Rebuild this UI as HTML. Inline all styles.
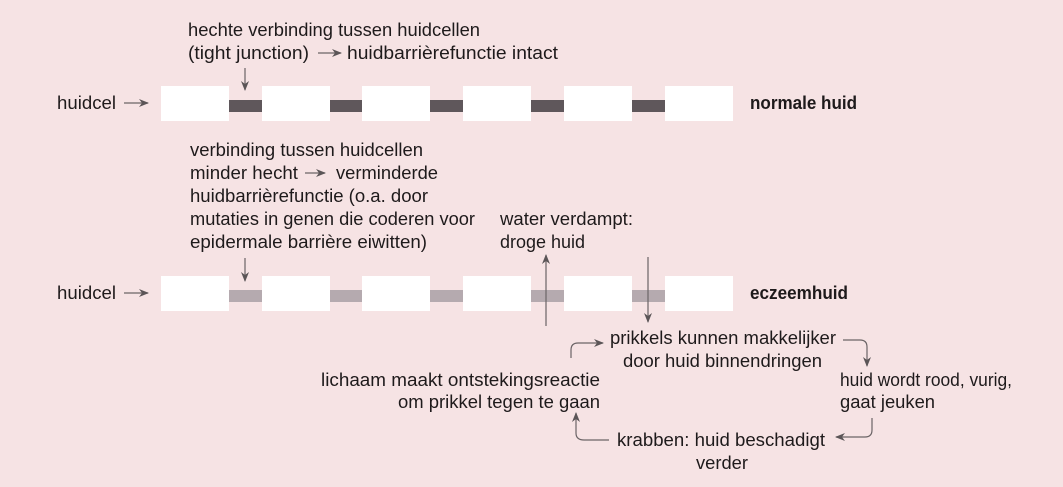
<!DOCTYPE html>
<html><head><meta charset="utf-8"><style>
html,body{margin:0;padding:0;background:#f6e3e4;}
svg{display:block;}
text{font-family:"Liberation Sans",sans-serif;font-size:18px;fill:#1e1a1b;}
.b{font-weight:bold;}
</style></head><body>
<svg width="1063" height="487" viewBox="0 0 1063 487" xmlns="http://www.w3.org/2000/svg">
<defs>
<marker id="a" markerWidth="10" markerHeight="8" refX="9" refY="4" orient="auto" markerUnits="userSpaceOnUse">
<path d="M0,0 L10,4 L0,8 L3,4 z" fill="#5b5557"/></marker>
</defs>
<rect width="1063" height="487" fill="#f6e3e4"/>
<g fill="#5f575b">
<rect x="229" y="100" width="33" height="12"/><rect x="330" y="100" width="32" height="12"/>
<rect x="430" y="100" width="33" height="12"/><rect x="531" y="100" width="33" height="12"/>
<rect x="632" y="100" width="33" height="12"/></g>
<g fill="#fff">
<rect x="161" y="86" width="68" height="35"/><rect x="262" y="86" width="68" height="35"/>
<rect x="362" y="86" width="68" height="35"/><rect x="463" y="86" width="68" height="35"/>
<rect x="564" y="86" width="68" height="35"/><rect x="665" y="86" width="68" height="35"/></g>
<g fill="#b5aaaf">
<rect x="229" y="290" width="33" height="12"/><rect x="330" y="290" width="32" height="12"/>
<rect x="430" y="290" width="33" height="12"/><rect x="531" y="290" width="33" height="12"/>
<rect x="632" y="290" width="33" height="12"/></g>
<g fill="#fff">
<rect x="161" y="276" width="68" height="35"/><rect x="262" y="276" width="68" height="35"/>
<rect x="362" y="276" width="68" height="35"/><rect x="463" y="276" width="68" height="35"/>
<rect x="564" y="276" width="68" height="35"/><rect x="665" y="276" width="68" height="35"/></g>

<g stroke="#6b6466" stroke-width="1.2" fill="none" marker-end="url(#a)">
<line x1="124" y1="103" x2="148" y2="103"/>
<line x1="124" y1="293" x2="148" y2="293"/>
<line x1="245" y1="68" x2="245" y2="90"/>
<line x1="245" y1="258" x2="245" y2="281"/>
<line x1="318" y1="53" x2="341" y2="53"/>
<line x1="305" y1="173" x2="325" y2="173"/>
<line x1="546" y1="326" x2="546" y2="255"/>
<line x1="648" y1="257" x2="648" y2="322"/>
<path d="M571,358 L571,350 Q571,343 578,343 L603,343"/>
<path d="M843,340 L860,340 Q867,340 867,347 L867,366"/>
<path d="M872,418 L872,430 Q872,437 865,437 L836,437"/>
<path d="M609,440 L584,440 Q576,440 576,433 L576,413"/>
</g>

<text x="188" y="36" textLength="292" lengthAdjust="spacingAndGlyphs">hechte verbinding tussen huidcellen</text>
<text x="188" y="59" textLength="121" lengthAdjust="spacingAndGlyphs">(tight junction)</text>
<text x="347" y="59" textLength="211" lengthAdjust="spacingAndGlyphs">huidbarrièrefunctie intact</text>
<text x="57" y="109" textLength="59" lengthAdjust="spacingAndGlyphs">huidcel</text>
<text x="750" y="109" class="b" textLength="107" lengthAdjust="spacingAndGlyphs">normale huid</text>

<text x="190" y="156" textLength="233" lengthAdjust="spacingAndGlyphs">verbinding tussen huidcellen</text>
<text x="190" y="179" textLength="108" lengthAdjust="spacingAndGlyphs">minder hecht</text>
<text x="336" y="179" textLength="102" lengthAdjust="spacingAndGlyphs">verminderde</text>
<text x="190" y="202" textLength="238" lengthAdjust="spacingAndGlyphs">huidbarrièrefunctie (o.a. door</text>
<text x="190" y="225" textLength="285" lengthAdjust="spacingAndGlyphs">mutaties in genen die coderen voor</text>
<text x="190" y="248" textLength="237" lengthAdjust="spacingAndGlyphs">epidermale barrière eiwitten)</text>
<text x="500" y="225" textLength="133" lengthAdjust="spacingAndGlyphs">water verdampt:</text>
<text x="500" y="248" textLength="85" lengthAdjust="spacingAndGlyphs">droge huid</text>

<text x="57" y="299" textLength="59" lengthAdjust="spacingAndGlyphs">huidcel</text>
<text x="750" y="299" class="b" textLength="98" lengthAdjust="spacingAndGlyphs">eczeemhuid</text>

<text x="610" y="344" textLength="226" lengthAdjust="spacingAndGlyphs">prikkels kunnen makkelijker</text>
<text x="623" y="367" textLength="199" lengthAdjust="spacingAndGlyphs">door huid binnendringen</text>
<text x="321" y="386" textLength="279" lengthAdjust="spacingAndGlyphs">lichaam maakt ontstekingsreactie</text>
<text x="398" y="408" textLength="202" lengthAdjust="spacingAndGlyphs">om prikkel tegen te gaan</text>
<text x="840" y="386" textLength="172" lengthAdjust="spacingAndGlyphs">huid wordt rood, vurig,</text>
<text x="840" y="408" textLength="95" lengthAdjust="spacingAndGlyphs">gaat jeuken</text>
<text x="617" y="446" textLength="208" lengthAdjust="spacingAndGlyphs">krabben: huid beschadigt</text>
<text x="696" y="469" textLength="52" lengthAdjust="spacingAndGlyphs">verder</text>
</svg>
</body></html>
